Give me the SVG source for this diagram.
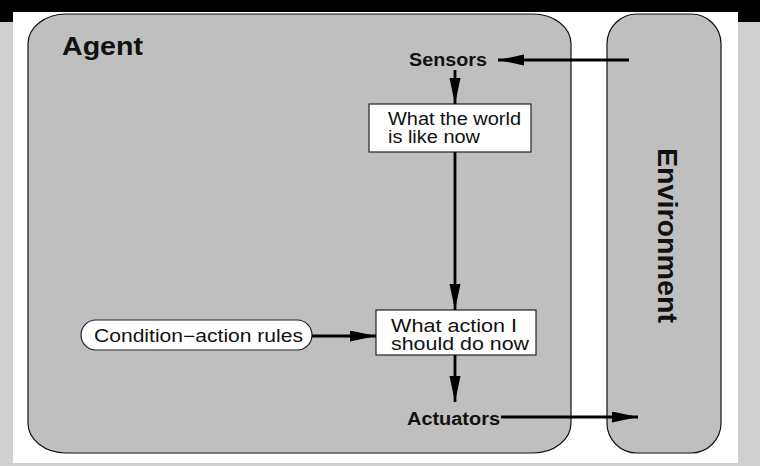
<svg xmlns="http://www.w3.org/2000/svg" width="760" height="466" viewBox="0 0 760 466">
<style>
.box{fill:#bfbfbf;stroke:#111;stroke-width:1.2}
.wbox{fill:#fff;stroke:#222;stroke-width:1.2}
.b{font-family:"Liberation Sans",Arial,sans-serif;font-weight:bold;fill:#111}
.r{font-family:"Liberation Sans",Arial,sans-serif;fill:#111;font-size:17.5px}
.ln{stroke:#000;stroke-width:2.8;fill:none;marker-end:url(#ah)}
</style>
<defs>
<marker id="ah" markerUnits="userSpaceOnUse" markerWidth="28" markerHeight="12" refX="26" refY="5.5" orient="auto">
<path d="M0,0 L26,5.5 L0,11 z" fill="#000"/>
</marker>
</defs>
<rect x="0" y="0" width="760" height="466" fill="#cfd0cf"/>
<rect x="0" y="0" width="760" height="22" fill="#000"/>
<rect x="13" y="12" width="725" height="451" fill="#fff"/>
<g id="agent">
<rect class="box" x="28" y="14" width="543" height="439" rx="38" ry="30"/>
<text class="b" x="62" y="55" font-size="26" textLength="81" lengthAdjust="spacingAndGlyphs">Agent</text>
</g>
<g id="environment">
<rect class="box" x="607" y="14" width="114" height="439" rx="30" ry="30"/>
<text class="b" font-size="27" transform="translate(658,148) rotate(90)" textLength="175" lengthAdjust="spacingAndGlyphs">Environment</text>
</g>
<g id="sensors">
<text class="b" x="409" y="66" font-size="18" textLength="78" lengthAdjust="spacingAndGlyphs">Sensors</text>
</g>
<g id="world">
<rect class="wbox" x="369" y="104" width="162" height="48"/>
<text class="r" x="388" y="125" textLength="133" lengthAdjust="spacingAndGlyphs">What the world</text>
<text class="r" x="388" y="143" textLength="92" lengthAdjust="spacingAndGlyphs">is like now</text>
</g>
<g id="rules">
<rect class="wbox" x="81" y="320" width="231" height="30" rx="15" ry="15"/>
<text class="r" x="94" y="342" textLength="209" lengthAdjust="spacingAndGlyphs">Condition−action rules</text>
</g>
<g id="action">
<rect class="wbox" x="376" y="310" width="160" height="45"/>
<text class="r" x="391" y="332" textLength="126" lengthAdjust="spacingAndGlyphs">What action I</text>
<text class="r" x="391" y="350" textLength="138" lengthAdjust="spacingAndGlyphs">should do now</text>
</g>
<g id="actuators">
<text class="b" x="407" y="425" font-size="18" textLength="93" lengthAdjust="spacingAndGlyphs">Actuators</text>
</g>
<g id="connectors">
<line class="ln" x1="629" y1="60" x2="498" y2="60"/>
<line class="ln" x1="455" y1="70" x2="455" y2="104"/>
<line class="ln" x1="455" y1="152" x2="455" y2="310"/>
<line class="ln" x1="312" y1="336" x2="376" y2="336"/>
<line class="ln" x1="455" y1="355" x2="455" y2="402"/>
<line class="ln" x1="501" y1="417" x2="638" y2="417"/>
</g>
</svg>
